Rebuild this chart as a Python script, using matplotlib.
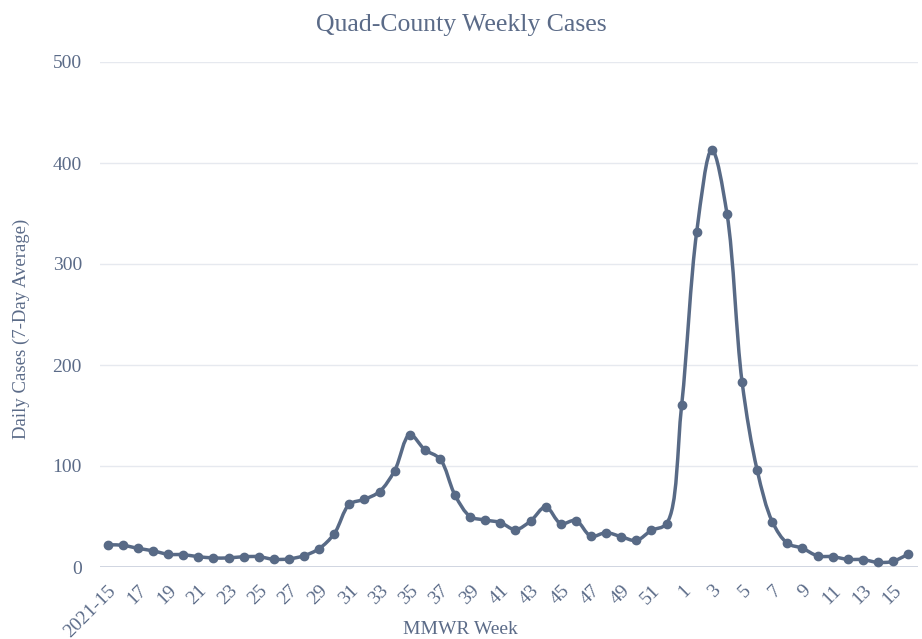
import matplotlib
matplotlib.use("Agg")
import matplotlib.pyplot as plt
from matplotlib.path import Path
from matplotlib.patches import PathPatch
import numpy as np

# MMWR weeks 2021-15 .. 2021-52, then 2022-1 .. 2022-16
weeks_2021 = list(range(15, 53))
weeks_2022 = list(range(1, 17))
cases_2021 = [22, 21.5, 18.5, 16, 12.6, 12.2, 10.2, 9, 9, 10.2, 10.2, 7.6, 8, 11.2,
              18.2, 33, 62, 67, 74.7, 95.5, 131, 116, 107, 71, 50, 46.5, 44, 37,
              45.5, 59.5, 43, 46, 30.5, 34, 30, 26.3, 36.3, 43]
cases_2022 = [160, 332, 413, 350, 183.5, 96, 45, 23.5, 18.5, 11, 10.2, 7.6, 7.3,
              4.6, 5.6, 13]

labels = [f"2021-{w}" if i == 0 else str(w) for i, w in enumerate(weeks_2021)]
labels += [str(w) for w in weeks_2022]
cases = np.array(cases_2021 + cases_2022, dtype=float)
x = np.arange(len(cases))

color = "#586a86"
text_color = "#5b6b88"
plt.rcParams["font.family"] = ["Liberation Serif", "DejaVu Serif"]


def make_tangent(p0, p1, p2, smooth=1.0):
    # plotly-style spline tangent
    d1 = p0 - p1
    d2 = p2 - p1
    d1a = np.hypot(*d1) ** 0.5
    d2a = np.hypot(*d2) ** 0.5
    num = (d2a * d2a * d1 - d1a * d1a * d2) * smooth
    den1 = 3 * d2a * (d1a + d2a)
    den2 = 3 * d1a * (d1a + d2a)
    return p1 + num / den1, p1 - num / den2


def spline_path(pts):
    tangents = [make_tangent(pts[i - 1], pts[i], pts[i + 1]) for i in range(1, len(pts) - 1)]
    verts = [pts[0], tangents[0][0], pts[1]]
    codes = [Path.MOVETO, Path.CURVE3, Path.CURVE3]
    for i in range(2, len(pts) - 1):
        verts += [tangents[i - 2][1], tangents[i - 1][0], pts[i]]
        codes += [Path.CURVE4] * 3
    verts += [tangents[-1][1], pts[-1]]
    codes += [Path.CURVE3] * 2
    return Path(verts, codes)


fig = plt.figure(figsize=(9.22, 6.39), dpi=100)
ax = fig.add_axes([100 / 922, 1 - 567 / 639, 818 / 922, 505 / 639])
ax.set_xlim(-0.51, 53.65)
ax.set_ylim(0, 500)

# smooth line computed in pixel space, drawn back in data space
disp = ax.transData.transform(np.column_stack([x, cases]))
path_disp = spline_path(disp)
path_data = Path(ax.transData.inverted().transform(path_disp.vertices), path_disp.codes)
ax.add_patch(PathPatch(path_data, facecolor="none", edgecolor=color, lw=2.5,
                       clip_on=False, zorder=3))
ax.plot(x, cases, "o", color=color, ms=6, clip_on=False, zorder=4)

ax.set_yticks([0, 100, 200, 300, 400, 500])
ax.grid(axis="y", color="#e6e9ef", lw=1)
ax.axhline(0, color="#c9cfdc", lw=1.2, zorder=2)
ax.set_axisbelow(True)
for s in ax.spines.values():
    s.set_visible(False)

ax.set_xticks(x[::2])
ax.set_xticklabels(labels[::2], rotation=45, ha="right", rotation_mode="anchor")
ax.tick_params(axis="both", length=0, colors=text_color, labelsize=14)
ax.tick_params(axis="y", pad=13)
ax.tick_params(axis="x", pad=11)

fig.text(460 / 922, 1 - 630 / 639, "MMWR Week", ha="center", va="center",
         color=text_color, fontsize=14)
fig.text(21 / 922, 1 - 329 / 639, "Daily Cases (7-Day Average)", ha="center",
         va="center", rotation=90, color=text_color, fontsize=13.5)
fig.text(461 / 922, 1 - 25 / 639, "Quad-County Weekly Cases", ha="center", va="center",
         color=text_color, fontsize=18.5)

fig.savefig("out.png", dpi=100)
